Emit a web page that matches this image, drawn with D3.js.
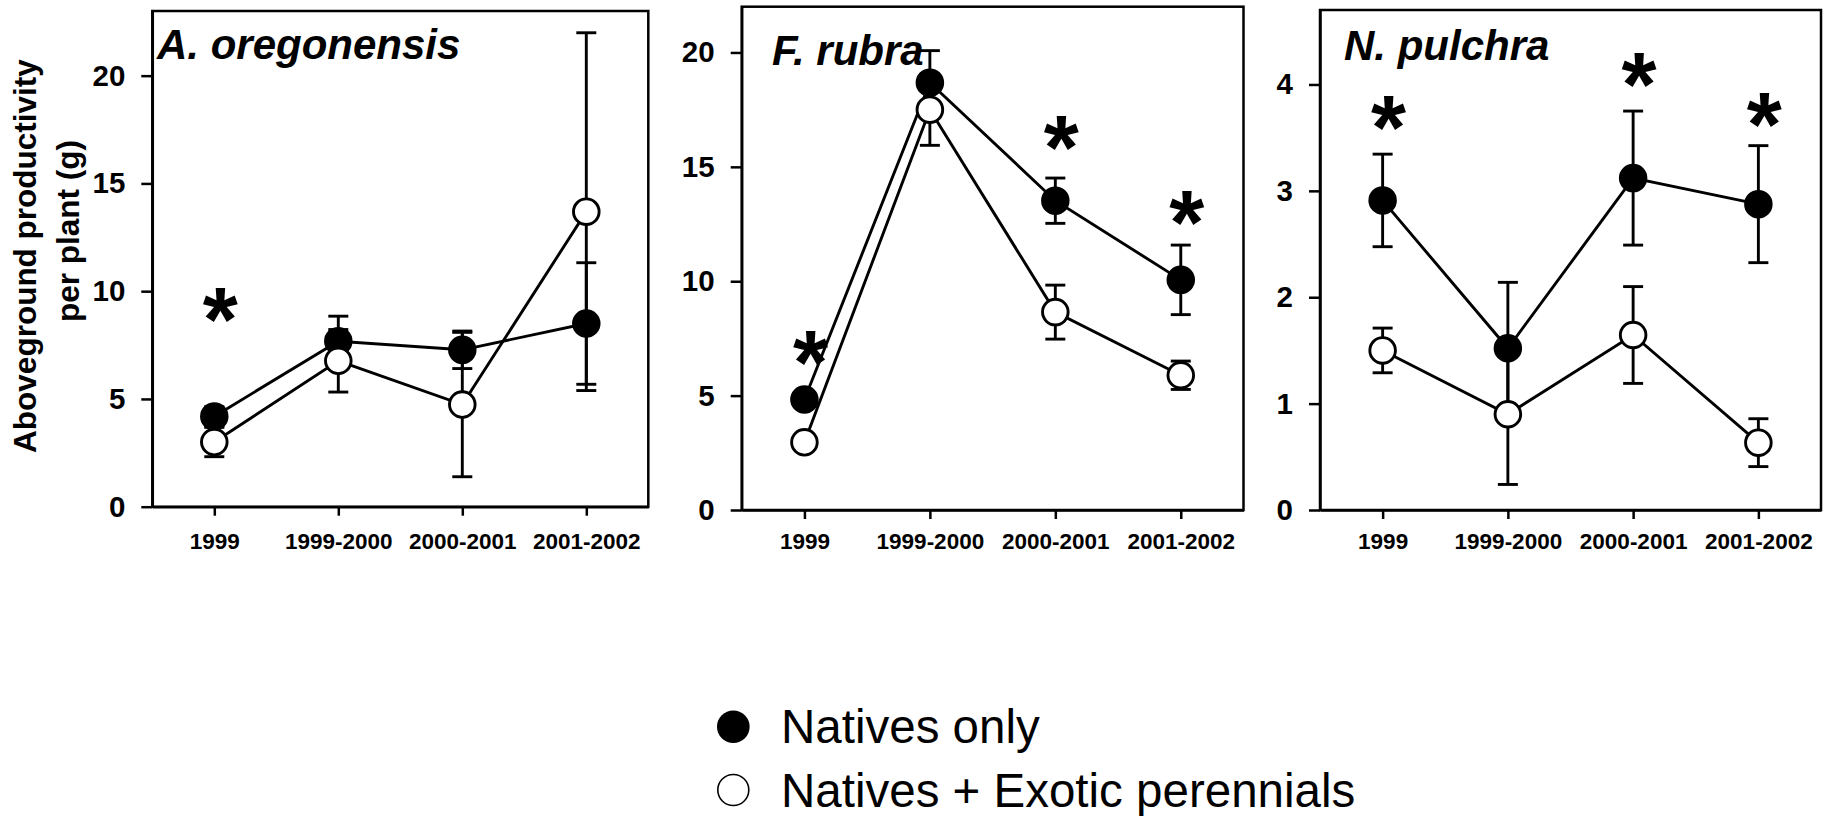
<!DOCTYPE html>
<html><head><meta charset="utf-8">
<script src="https://cdn.jsdelivr.net/npm/d3@7"></script>
<style>
body{margin:0;background:#fff}
svg{display:block}
text{font-family:"Liberation Sans",Arial,sans-serif}
</style>
</head><body>
<svg id="c" width="1831" height="816"></svg>
<script>
// ---------- DATA ----------
const categories = ["1999", "1999-2000", "2000-2001", "2001-2002"];
const speciesNames = ["A. oregonensis", "F. rubra", "N. pulchra"];
const yMaxima = [23, 22, 4.7];
const yTickValues = [[0, 5, 10, 15, 20], [0, 5, 10, 15, 20], [0, 1, 2, 3, 4]];

// A. oregonensis
const nativesA = [4.19, 7.68, 7.28, 8.50];
const nativesErrA = [0.45, 1.16, 0.87, 2.82];
const exoticA = [3.00, 6.77, 4.74, 13.69];
const exoticErrA = [0.68, 1.45, 3.35, 8.30];
const sigA = [[0, 9.25]];

// F. rubra
const nativesF = [4.83, 18.68, 13.52, 10.06];
const nativesErrF = [0.30, 1.40, 0.99, 1.52];
const exoticF = [2.96, 17.50, 8.65, 5.89];
const exoticErrF = [0.30, 1.56, 1.18, 0.62];
const sigF = [[0, 6.95], [2, 16.37], [3, 13.10]];

// N. pulchra
const nativesN = [2.91, 1.52, 3.12, 2.875];
const nativesErrN = [0.435, 0.62, 0.63, 0.55];
const exoticN = [1.50, 0.90, 1.645, 0.633];
const exoticErrN = [0.21, 0.66, 0.455, 0.225];
const sigN = [[0, 3.71], [2, 4.11], [3, 3.73]];

const legendLabels = ["Natives only", "Natives + Exotic perennials"];
const yAxisLabel = ["Aboveground productivity", "per plant (g)"];

// ---------- LAYOUT ----------
const panelData = [
  {natives: nativesA, nErr: nativesErrA, exotic: exoticA, eErr: exoticErrA, sig: sigA},
  {natives: nativesF, nErr: nativesErrF, exotic: exoticF, eErr: exoticErrF, sig: sigF},
  {natives: nativesN, nErr: nativesErrN, exotic: exoticN, eErr: exoticErrN, sig: sigN}
];
const frames = [
  {left: 152.3, right: 648.3, top: 11, bottom: 506.7, tx: 157, ty: 59.3},
  {left: 741.7, right: 1243.5, top: 6.7, bottom: 510, tx: 772, ty: 65.3},
  {left: 1320, right: 1821, top: 10, bottom: 510, tx: 1344, ty: 60}
];
const LW = 2.5, DLW = 2.9, R = 12.8, CAP = 10;

const svg = d3.select("#c");

frames.forEach((f, i) => {
  const d = panelData[i];
  const x = d3.scalePoint().domain(categories).range([f.left, f.right]).padding(0.5);
  const y = d3.scaleLinear().domain([0, yMaxima[i]]).range([f.bottom, f.top]);
  const g = svg.append("g");

  // frame
  g.append("rect").attr("x", f.left).attr("y", f.top)
    .attr("width", f.right - f.left).attr("height", f.bottom - f.top)
    .attr("fill", "none").attr("stroke", "#000").attr("stroke-width", LW);

  // y axis
  const ya = g.append("g").attr("transform", `translate(${f.left},0)`)
    .call(d3.axisLeft(y).tickValues(yTickValues[i]).tickSize(11).tickSizeOuter(0).tickPadding(16).tickFormat(d3.format("d")));
  ya.select(".domain").attr("stroke-width", LW);
  ya.selectAll(".tick line").attr("stroke-width", LW);
  ya.selectAll(".tick text").attr("font-size", 29.5).attr("font-weight", "bold").attr("fill", "#000");

  // x axis
  const xa = g.append("g").attr("transform", `translate(0,${f.bottom})`)
    .call(d3.axisBottom(x).tickSize(9).tickSizeOuter(0).tickPadding(549 - f.bottom - 16 - 9));
  xa.select(".domain").attr("stroke-width", LW);
  xa.selectAll(".tick line").attr("stroke-width", LW);
  xa.selectAll(".tick text").attr("font-size", 22.5).attr("font-weight", "bold").attr("fill", "#000");

  // title
  g.append("text").attr("x", f.tx).attr("y", f.ty).text(speciesNames[i])
    .attr("font-size", 42).attr("font-weight", "bold").attr("font-style", "italic");

  const series = [
    {vals: d.natives, err: d.nErr, fill: "#000"},
    {vals: d.exotic, err: d.eErr, fill: "#fff"}
  ];
  const line = d3.line().x((v, j) => x(categories[j])).y(v => y(v));
  series.forEach(s => {
    g.append("path").attr("d", line(s.vals)).attr("fill", "none")
      .attr("stroke", "#000").attr("stroke-width", DLW);
  });
  series.forEach(s => {
    s.vals.forEach((v, j) => {
      const cx = x(categories[j]);
      const y1 = y(v + s.err[j]), y0 = y(v - s.err[j]);
      g.append("line").attr("x1", cx).attr("x2", cx).attr("y1", y1).attr("y2", y0)
        .attr("stroke", "#000").attr("stroke-width", DLW);
      [y1, y0].forEach(yy => g.append("line").attr("x1", cx - CAP).attr("x2", cx + CAP)
        .attr("y1", yy).attr("y2", yy).attr("stroke", "#000").attr("stroke-width", DLW));
    });
  });
  series.forEach(s => {
    g.selectAll(null).data(s.vals).enter().append("circle")
      .attr("cx", (v, j) => x(categories[j])).attr("cy", v => y(v)).attr("r", R)
      .attr("fill", s.fill).attr("stroke", "#000").attr("stroke-width", DLW);
  });

  // significance asterisks
  const fsA = 90;
  g.selectAll(null).data(d.sig).enter().append("text")
    .attr("x", s => x(categories[s[0]]) + 6)
    .attr("y", s => y(s[1]) + 0.48 * fsA)
    .attr("text-anchor", "middle").attr("font-size", fsA).attr("font-weight", "bold")
    .text("*");
});

// y-axis label
svg.append("text").attr("transform", "translate(36,256) rotate(-90)")
  .attr("text-anchor", "middle").attr("font-size", 31.5).attr("font-weight", "bold")
  .text(yAxisLabel[0]);
svg.append("text").attr("transform", "translate(79,231) rotate(-90)")
  .attr("text-anchor", "middle").attr("font-size", 31.5).attr("font-weight", "bold")
  .text(yAxisLabel[1]);

// legend
const leg = svg.append("g");
legendLabels.forEach((t, i) => {
  const cy = 726.7 + i * 63.3;
  leg.append("circle").attr("cx", 733.3).attr("cy", cy).attr("r", i === 0 ? 16.3 : 15.5)
    .attr("fill", i === 0 ? "#000" : "#fff").attr("stroke", "#000").attr("stroke-width", i === 0 ? 0 : 1.6);
  leg.append("text").attr("x", 781).attr("y", cy + 16.5).attr("font-size", 47.5).text(t);
});
</script>
</body></html>
